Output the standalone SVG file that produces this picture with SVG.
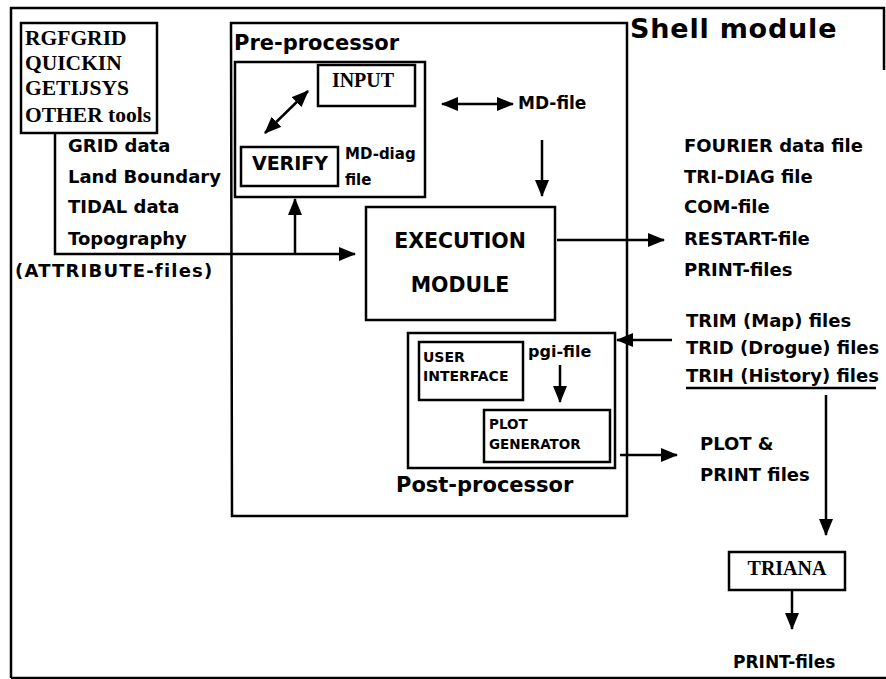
<svg xmlns="http://www.w3.org/2000/svg" width="886" height="679" viewBox="0 0 886 679">
<style>
.box{fill:none;stroke:#000;stroke-width:2.5}
.ln{fill:none;stroke:#000;stroke-width:2.5}
.ar{fill:none;stroke:#000;stroke-width:2.5;marker-end:url(#ah)}
.dar{fill:none;stroke:#000;stroke-width:2.5;marker-end:url(#ah);marker-start:url(#ah)}
.sans{font-family:"DejaVu Sans","Liberation Sans",sans-serif;font-weight:bold;fill:#000}
.serif{font-family:"Liberation Serif","DejaVu Serif",serif;font-weight:bold;fill:#000}
.s18{font-size:18px}
.s14{font-size:14px}
.s21{font-size:21px}
</style>
<defs>
<marker id="ah" markerUnits="userSpaceOnUse" markerWidth="18" markerHeight="14" refX="16" refY="7" orient="auto-start-reverse">
<path d="M0,0 L17,7 L0,14 z" fill="#000"/>
</marker>
</defs>
<rect width="886" height="679" fill="#fff"/>
<g id="frame">
<path class="ln" d="M11,678 L11,8 L884,8 L884,70" />
<path class="ln" d="M11,678 L886,678"/>
</g>
<g id="shell">
<path class="box" d="M231,23 L627,23 L627,516 L232,516 Z"/>
<text class="sans" x="630" y="38" font-size="27" letter-spacing="0.8">Shell module</text>
<text class="sans s21" x="234" y="50">Pre-processor</text>
<text class="sans s21" x="396" y="492">Post-processor</text>
</g>
<g id="tools">
<rect class="box" x="21" y="23" width="136" height="110"/>
<text class="serif" font-size="21.5" x="25" y="45">RGFGRID</text>
<text class="serif" font-size="21.5" x="25" y="70">QUICKIN</text>
<text class="serif" font-size="21.5" x="25" y="95">GETIJSYS</text>
<text class="serif" font-size="21.5" x="25" y="122">OTHER tools</text>
</g>
<g id="inputs">
<text class="sans s18" x="68" y="152">GRID data</text>
<text class="sans s18" x="68" y="183">Land Boundary</text>
<text class="sans s18" x="68" y="213">TIDAL data</text>
<text class="sans s18" x="68" y="245">Topography</text>
<text class="sans s18" x="15" y="277" letter-spacing="1.2">(ATTRIBUTE-files)</text>
</g>
<g id="preproc">
<rect class="box" x="235" y="62" width="190" height="135"/>
</g>
<g id="input">
<rect class="box" x="318" y="65" width="97" height="41"/>
<text class="serif" font-size="20" x="363" y="87" text-anchor="middle">INPUT</text>
</g>
<g id="verify">
<rect class="box" x="241" y="147" width="97" height="39"/>
<text class="sans" font-size="19" x="290" y="170" text-anchor="middle">VERIFY</text>
<text class="sans" font-size="15" x="345" y="159">MD-diag</text>
<text class="sans" font-size="15" x="345" y="185">file</text>
</g>
<g id="mdfile">
<text class="sans" font-size="17" x="518" y="109">MD-file</text>
</g>
<g id="execution">
<rect class="box" x="366" y="207" width="189" height="113"/>
<text class="sans" font-size="20.5" x="460" y="248" text-anchor="middle">EXECUTION</text>
<text class="sans" font-size="20.5" x="460" y="292" text-anchor="middle">MODULE</text>
</g>
<g id="outputs">
<text class="sans s18" x="684" y="152">FOURIER data file</text>
<text class="sans s18" x="684" y="183">TRI-DIAG file</text>
<text class="sans s18" x="684" y="213">COM-file</text>
<text class="sans s18" x="684" y="245">RESTART-file</text>
<text class="sans s18" x="684" y="276">PRINT-files</text>
</g>
<g id="trifiles">
<text class="sans s18" x="686" y="327">TRIM (Map) files</text>
<text class="sans s18" x="686" y="354">TRID (Drogue) files</text>
<text class="sans s18" x="686" y="382">TRIH (History) files</text>
<path class="ln" d="M686,388 L876,388" stroke-width="2"/>
</g>
<g id="postproc">
<rect class="box" x="408" y="333" width="207" height="135"/>
<text class="sans" font-size="16" x="528" y="357">pgi-file</text>
</g>
<g id="userinterface">
<rect class="box" x="419" y="342" width="104" height="58"/>
<text class="sans s14" x="423" y="362">USER</text>
<text class="sans s14" x="423" y="381">INTERFACE</text>
</g>
<g id="plotgen">
<rect class="box" x="484" y="410" width="126" height="52"/>
<text class="sans" font-size="13.5" x="489" y="429">PLOT</text>
<text class="sans" font-size="13.5" x="489" y="449">GENERATOR</text>
</g>
<g id="plotfiles">
<text class="sans s18" x="700" y="450">PLOT &amp;</text>
<text class="sans s18" x="700" y="481">PRINT files</text>
</g>
<g id="triana">
<rect class="box" x="729" y="552" width="116" height="38"/>
<text class="serif" font-size="20" x="787" y="575" text-anchor="middle">TRIANA</text>
</g>
<g id="printfiles">
<text class="sans" font-size="17" x="733" y="668">PRINT-files</text>
</g>
<g id="connectors">
<path class="ln" d="M55,133 L55,254 L295,254"/>
<path class="ar" d="M295,254 L355,254"/>
<path class="ar" d="M295,254 L295,199"/>
<path class="dar" d="M265,133 L308,91"/>
<path class="dar" d="M442,104 L513,104"/>
<path class="ar" d="M542,140 L542,196"/>
<path class="ar" d="M557,240 L664,240"/>
<path class="ar" d="M672,340 L617,340"/>
<path class="ar" d="M560,365 L560,402"/>
<path class="ar" d="M620,455 L677,455"/>
<path class="ar" d="M826,395 L826,535"/>
<path class="ar" d="M792,590 L792,629"/>
</g>
</svg>
